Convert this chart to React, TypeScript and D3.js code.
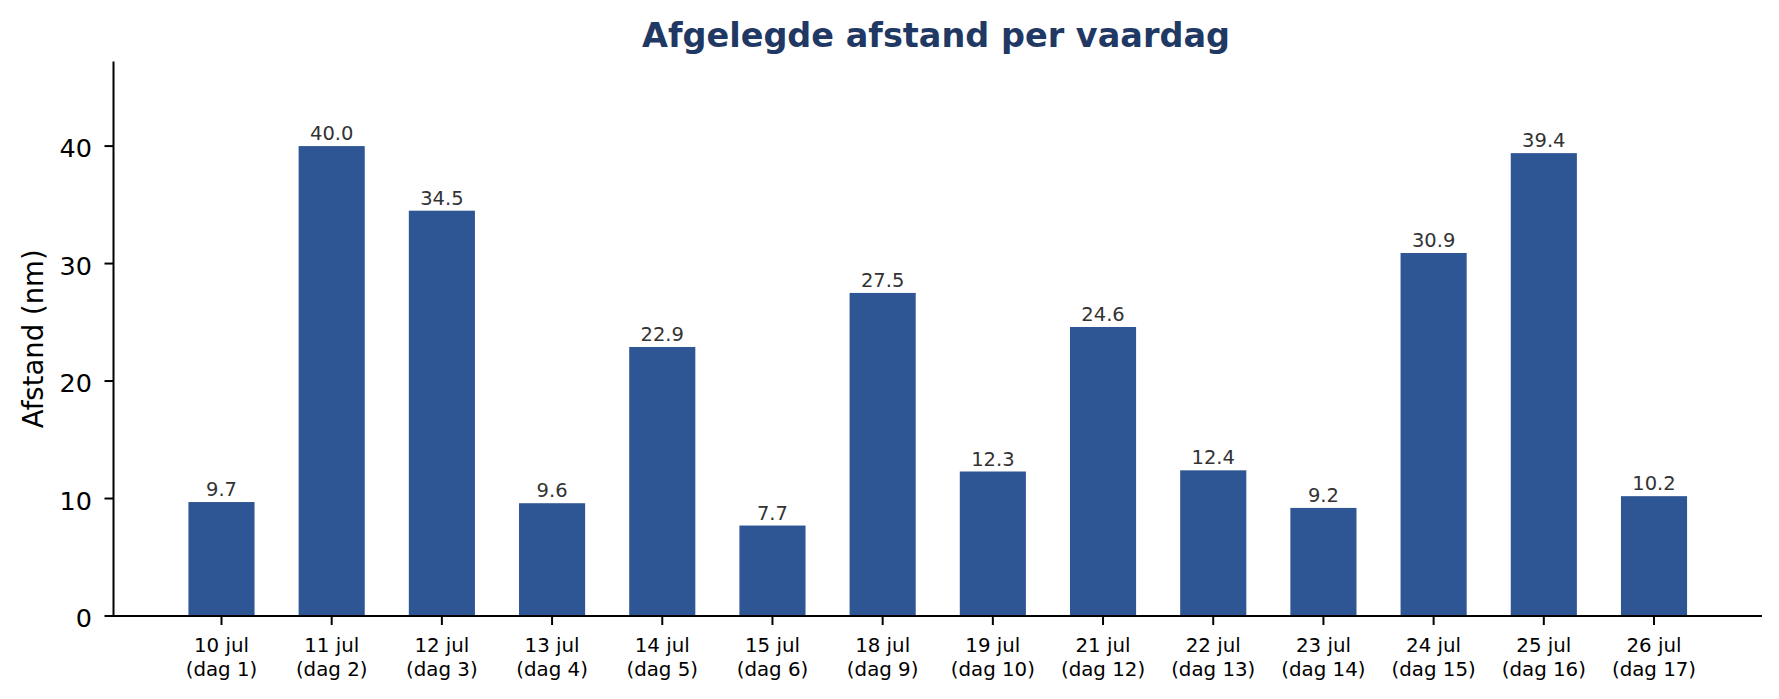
import * as d3 from 'd3';

// data
const dates = ['10 jul', '11 jul', '12 jul', '13 jul', '14 jul', '15 jul', '18 jul', '19 jul', '21 jul', '22 jul', '23 jul', '24 jul', '25 jul', '26 jul'];
const dayNumbers = [1, 2, 3, 4, 5, 6, 9, 10, 12, 13, 14, 15, 16, 17];
const distances = [9.7, 40.0, 34.5, 9.6, 22.9, 7.7, 27.5, 12.3, 24.6, 12.4, 9.2, 30.9, 39.4, 10.2];
const yTicks = [0, 10, 20, 30, 40];

const W = 1779;
const H = 699;
const FONT = '"DejaVu Sans", sans-serif';
const BAR = '#2e5594';

export default function App() {
  const margin = { top: 61.5, right: W - 1762, bottom: H - 616, left: 113.5 };

  // one band per sailing day, bars 0.6 of the step wide
  const x = d3.scaleBand<number>()
    .domain(d3.range(dates.length))
    .range([margin.left, W - margin.right])
    .paddingInner(0.4)
    .paddingOuter(0.68);

  // top of axis sits at max * 1.18
  const y = d3.scaleLinear()
    .domain([0, (d3.max(distances) ?? 0) * 1.18])
    .range([H - margin.bottom, margin.top]);

  const y0 = y(0);

  return (
    <div style={{ position: 'fixed', left: 0, top: 0, background: '#fff' }}>
      <svg width={W} height={H} style={{ display: 'block' }} fontFamily={FONT}>
        <rect width={W} height={H} fill="#fff" />

        <text x={936} y={47} textAnchor="middle" fontSize={33.5} fontWeight="bold" fill="#1f3864">
          Afgelegde afstand per vaardag
        </text>

        {/* bars + value labels */}
        {distances.map((d, i) => (
          <g key={i}>
            <rect x={x(i)} y={y(d)} width={x.bandwidth()} height={y0 - y(d)} fill={BAR} />
            <text
              x={(x(i) ?? 0) + x.bandwidth() / 2}
              y={y(d) - 6}
              textAnchor="middle"
              fontSize={19.5}
              fill="#333"
            >
              {d.toFixed(1)}
            </text>
          </g>
        ))}

        {/* y axis */}
        <line x1={margin.left} x2={margin.left} y1={y.range()[1]} y2={y0 + 1} stroke="#000" strokeWidth={2} />
        {yTicks.map(t => (
          <g key={t}>
            <line x1={margin.left - 9} x2={margin.left} y1={y(t)} y2={y(t)} stroke="#000" strokeWidth={2} />
            <text x={margin.left - 21.5} y={y(t) + 11} textAnchor="end" fontSize={25.5} fill="#000">
              {t}
            </text>
          </g>
        ))}
        <text
          transform={`translate(43,${(y.range()[0] + y.range()[1]) / 2}) rotate(-90)`}
          textAnchor="middle"
          fontSize={27.5}
          fill="#000"
        >
          Afstand (nm)
        </text>

        {/* x axis */}
        <line x1={margin.left - 1} x2={W - margin.right} y1={y0} y2={y0} stroke="#000" strokeWidth={2} />
        {dates.map((d, i) => {
          const cx = (x(i) ?? 0) + x.bandwidth() / 2;
          return (
            <g key={d}>
              <line x1={cx} x2={cx} y1={y0} y2={y0 + 9} stroke="#000" strokeWidth={2} />
              <text x={cx} y={652} textAnchor="middle" fontSize={19.8} fill="#000">
                <tspan x={cx}>{d}</tspan>
                <tspan x={cx} dy={23.8}>(dag {dayNumbers[i]})</tspan>
              </text>
            </g>
          );
        })}
      </svg>
    </div>
  );
}
